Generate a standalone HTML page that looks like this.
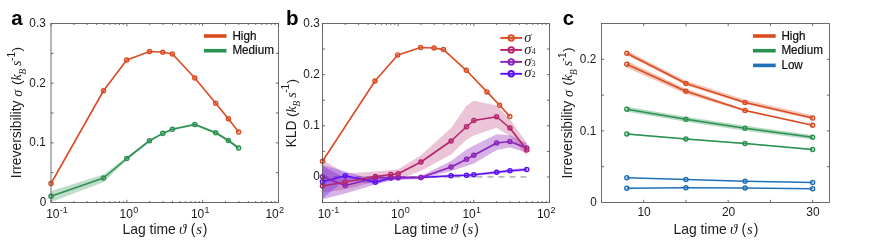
<!DOCTYPE html>
<html><head><meta charset="utf-8"><title>figure</title>
<style>
html,body{margin:0;padding:0;background:#fff;}
body{width:872px;height:242px;overflow:hidden;}
svg{display:block;will-change:transform;font-family:"Liberation Sans",sans-serif;fill:#1c1c1c;}
</style></head><body>
<svg width="872" height="242" viewBox="0 0 872 242">
<rect width="872" height="242" fill="#ffffff"/>
<clipPath id="ca"><rect x="51" y="23.5" width="227.5" height="179.0"/></clipPath>
<clipPath id="cb"><rect x="322.5" y="23.5" width="227" height="179.0"/></clipPath>
<clipPath id="cc"><rect x="601.5" y="23.5" width="228" height="179.0"/></clipPath>
<path d="M51.00 191.00 L103.50 174.50 L126.75 157.00 L149.50 139.80 L162.75 132.40 L172.40 128.30 L194.80 123.20 L215.70 131.30 L228.40 139.00 L238.60 146.80 L238.60 149.20 L228.40 142.00 L215.70 134.30 L194.80 125.80 L172.40 130.30 L162.75 134.40 L149.50 141.80 L126.75 160.30 L103.50 182.30 L51.00 202.00Z" fill="#2A9150" fill-opacity="0.3" stroke="none" clip-path="url(#ca)"/>
<path d="M51.00 196.20 L103.50 178.00 L126.75 158.50 L149.50 140.75 L162.75 133.40 L172.40 129.30 L194.80 124.50 L215.70 132.80 L228.40 140.50 L238.60 148.00" stroke="#2A9150" stroke-width="1.6" fill="none" stroke-linejoin="round"/>
<circle cx="51.00" cy="196.20" r="2.05" fill="none" stroke="#2A9150" stroke-width="1.45"/>
<circle cx="103.50" cy="178.00" r="2.05" fill="none" stroke="#2A9150" stroke-width="1.45"/>
<circle cx="126.75" cy="158.50" r="2.05" fill="none" stroke="#2A9150" stroke-width="1.45"/>
<circle cx="149.50" cy="140.75" r="2.05" fill="none" stroke="#2A9150" stroke-width="1.45"/>
<circle cx="162.75" cy="133.40" r="2.05" fill="none" stroke="#2A9150" stroke-width="1.45"/>
<circle cx="172.40" cy="129.30" r="2.05" fill="none" stroke="#2A9150" stroke-width="1.45"/>
<circle cx="194.80" cy="124.50" r="2.05" fill="none" stroke="#2A9150" stroke-width="1.45"/>
<circle cx="215.70" cy="132.80" r="2.05" fill="none" stroke="#2A9150" stroke-width="1.45"/>
<circle cx="228.40" cy="140.50" r="2.05" fill="none" stroke="#2A9150" stroke-width="1.45"/>
<circle cx="238.60" cy="148.00" r="2.05" fill="none" stroke="#2A9150" stroke-width="1.45"/>
<path d="M51.00 183.50 L103.50 90.75 L126.75 60.00 L149.50 51.50 L162.75 52.25 L172.40 54.00 L194.80 78.00 L215.70 103.25 L228.40 118.75 L238.60 132.00" stroke="#DB4B20" stroke-width="1.6" fill="none" stroke-linejoin="round"/>
<circle cx="51.00" cy="183.50" r="2.05" fill="none" stroke="#DB4B20" stroke-width="1.45"/>
<circle cx="103.50" cy="90.75" r="2.05" fill="none" stroke="#DB4B20" stroke-width="1.45"/>
<circle cx="126.75" cy="60.00" r="2.05" fill="none" stroke="#DB4B20" stroke-width="1.45"/>
<circle cx="149.50" cy="51.50" r="2.05" fill="none" stroke="#DB4B20" stroke-width="1.45"/>
<circle cx="162.75" cy="52.25" r="2.05" fill="none" stroke="#DB4B20" stroke-width="1.45"/>
<circle cx="172.40" cy="54.00" r="2.05" fill="none" stroke="#DB4B20" stroke-width="1.45"/>
<circle cx="194.80" cy="78.00" r="2.05" fill="none" stroke="#DB4B20" stroke-width="1.45"/>
<circle cx="215.70" cy="103.25" r="2.05" fill="none" stroke="#DB4B20" stroke-width="1.45"/>
<circle cx="228.40" cy="118.75" r="2.05" fill="none" stroke="#DB4B20" stroke-width="1.45"/>
<circle cx="238.60" cy="132.00" r="2.05" fill="none" stroke="#DB4B20" stroke-width="1.45"/>
<rect x="51" y="23.5" width="227.5" height="179.0" fill="none" stroke="#484848" stroke-width="0.8"/>
<path d="M51.00 202.5v-2.7M51.00 23.5v2.7M126.83 202.5v-2.7M126.83 23.5v2.7M202.67 202.5v-2.7M202.67 23.5v2.7M278.50 202.5v-2.7M278.50 23.5v2.7" stroke="#484848" stroke-width="0.8" fill="none"/>
<path d="M73.83 202.5v-1.5M73.83 23.5v1.5M87.18 202.5v-1.5M87.18 23.5v1.5M96.66 202.5v-1.5M96.66 23.5v1.5M104.01 202.5v-1.5M104.01 23.5v1.5M110.01 202.5v-1.5M110.01 23.5v1.5M115.09 202.5v-1.5M115.09 23.5v1.5M119.48 202.5v-1.5M119.48 23.5v1.5M123.36 202.5v-1.5M123.36 23.5v1.5M149.66 202.5v-1.5M149.66 23.5v1.5M163.02 202.5v-1.5M163.02 23.5v1.5M172.49 202.5v-1.5M172.49 23.5v1.5M179.84 202.5v-1.5M179.84 23.5v1.5M185.84 202.5v-1.5M185.84 23.5v1.5M190.92 202.5v-1.5M190.92 23.5v1.5M195.32 202.5v-1.5M195.32 23.5v1.5M199.20 202.5v-1.5M199.20 23.5v1.5M225.49 202.5v-1.5M225.49 23.5v1.5M238.85 202.5v-1.5M238.85 23.5v1.5M248.32 202.5v-1.5M248.32 23.5v1.5M255.67 202.5v-1.5M255.67 23.5v1.5M261.68 202.5v-1.5M261.68 23.5v1.5M266.75 202.5v-1.5M266.75 23.5v1.5M271.15 202.5v-1.5M271.15 23.5v1.5M275.03 202.5v-1.5M275.03 23.5v1.5" stroke="#484848" stroke-width="0.8" fill="none"/>
<path d="M51 172.67h2.6M278.5 172.67h-2.6M51 142.83h2.6M278.5 142.83h-2.6M51 113.00h2.6M278.5 113.00h-2.6M51 83.17h2.6M278.5 83.17h-2.6M51 53.33h2.6M278.5 53.33h-2.6" stroke="#484848" stroke-width="0.8" fill="none"/>
<text transform="translate(46.30 205.70) scale(0.98 1)" font-size="12" text-anchor="end" >0</text>
<text transform="translate(45.70 146.33) scale(0.98 1)" font-size="12" text-anchor="end" >0.1</text>
<text transform="translate(45.70 86.67) scale(0.98 1)" font-size="12" text-anchor="end" >0.2</text>
<text transform="translate(45.70 26.50) scale(0.98 1)" font-size="12" text-anchor="end" >0.3</text>
<text transform="translate(46.20 218.0) scale(0.91 1)" font-size="13.2">10<tspan dx="0.2" dy="-5.4" font-size="9.9">-1</tspan></text>
<text transform="translate(119.60 218.0) scale(0.91 1)" font-size="13.2">10<tspan dx="0.2" dy="-5.4" font-size="9.9">0</tspan></text>
<text transform="translate(190.90 218.0) scale(0.91 1)" font-size="13.2">10<tspan dx="0.2" dy="-5.4" font-size="9.9">1</tspan></text>
<text transform="translate(265.40 218.0) scale(0.91 1)" font-size="13.2">10<tspan dx="0.2" dy="-5.4" font-size="9.9">2</tspan></text>
<text transform="translate(11.30 25.20) scale(1 1)" font-size="20.5" text-anchor="start" font-weight="bold" fill="#000">a</text>
<g transform="translate(21.3 177.0) rotate(-90)"><text x="-1.2" y="0" font-size="13.85" transform="scale(1 1.07)">Irreversibility</text><text x="80.3" y="0.6" font-size="14.0" font-family="Liberation Serif" font-style="italic">σ</text><text x="92.00" y="0" font-size="13.7">(</text><text x="96.40" y="0" font-size="14.299999999999999" font-family="Liberation Serif" font-style="italic">k</text><text x="102.40" y="4.5" font-size="9.3" font-family="Liberation Serif" font-style="italic">B</text><text x="111.10" y="0" font-size="14.299999999999999" font-family="Liberation Serif" font-style="italic">s</text><text x="116.10" y="-6.6" font-size="10.1">-1</text><text x="125.50" y="0" font-size="13.7">)</text></g>
<text x="165.0" y="234" font-size="13.9" text-anchor="middle">Lag time<tspan font-family="Liberation Serif" font-style="italic" font-size="14.9" dx="3.2">ϑ</tspan><tspan dx="4.3">(</tspan><tspan font-family="Liberation Serif" font-style="italic" font-size="14.700000000000001" dx="0.9">s</tspan><tspan dx="0.9">)</tspan></text>
<path d="M204 36.0H226.5" stroke="#DB4B20" stroke-width="3.6"/>
<text transform="translate(232.40 39.70) scale(0.965 1)" font-size="12.1" text-anchor="start" fill="#0c0c0c" stroke="#0c0c0c" stroke-width="0.2">High</text>
<path d="M204 50.7H226.5" stroke="#2A9150" stroke-width="3.6"/>
<text transform="translate(232.40 54.40) scale(0.965 1)" font-size="12.1" text-anchor="start" fill="#0c0c0c" stroke="#0c0c0c" stroke-width="0.2">Medium</text>
<path d="M322.5 176.93H527" stroke="#7a7a7a" stroke-width="0.9" stroke-dasharray="6 5" fill="none"/>
<path d="M322.50 159.50 L345.28 173.50 L375.39 171.40 L390.83 170.00 L398.17 169.30 L420.94 155.30 L451.06 128.00 L466.50 105.80 L473.83 100.80 L496.61 105.50 L509.94 119.00 L526.72 143.00 L526.72 156.00 L509.94 136.00 L496.61 127.70 L473.83 135.50 L466.50 139.70 L451.06 154.50 L420.94 171.00 L398.17 179.50 L390.83 180.30 L375.39 181.50 L345.28 189.40 L322.50 192.50Z" fill="#B5256D" fill-opacity="0.27" stroke="none" clip-path="url(#cb)"/>
<path d="M322.50 166.00 L345.28 178.00 L375.39 175.50 L390.83 175.50 L398.17 176.00 L420.94 176.00 L451.06 161.00 L466.50 149.50 L473.83 145.50 L496.61 134.20 L509.94 135.30 L526.72 143.30 L526.72 152.50 L509.94 147.50 L496.61 150.00 L473.83 163.50 L466.50 166.00 L451.06 171.00 L420.94 179.00 L398.17 180.00 L390.83 180.80 L375.39 184.50 L345.28 193.50 L322.50 199.30Z" fill="#8A22B8" fill-opacity="0.35" stroke="none" clip-path="url(#cb)"/>
<path d="M322.50 165.00 L345.28 171.50 L375.39 180.50 L390.83 176.80 L398.17 176.60 L420.94 176.40 L451.06 174.60 L466.50 174.00 L473.83 173.50 L496.61 170.80 L509.94 169.20 L526.72 167.80 L526.72 171.20 L509.94 172.30 L496.61 173.70 L473.83 176.00 L466.50 176.50 L451.06 177.00 L420.94 178.60 L398.17 178.90 L390.83 179.20 L375.39 184.00 L345.28 180.00 L322.50 198.60Z" fill="#5A10F5" fill-opacity="0.3" stroke="none" clip-path="url(#cb)"/>
<path d="M322.50 181.75 L345.28 175.75 L375.39 182.25 L390.83 178.00 L398.17 177.75 L420.94 177.50 L451.06 175.75 L466.50 175.25 L473.83 174.75 L496.61 172.25 L509.94 170.75 L526.72 169.50" stroke="#5A10F5" stroke-width="1.6" fill="none" stroke-linejoin="round"/>
<circle cx="322.50" cy="181.75" r="2.05" fill="none" stroke="#5A10F5" stroke-width="1.45"/>
<circle cx="345.28" cy="175.75" r="2.05" fill="none" stroke="#5A10F5" stroke-width="1.45"/>
<circle cx="375.39" cy="182.25" r="2.05" fill="none" stroke="#5A10F5" stroke-width="1.45"/>
<circle cx="390.83" cy="178.00" r="2.05" fill="none" stroke="#5A10F5" stroke-width="1.45"/>
<circle cx="398.17" cy="177.75" r="2.05" fill="none" stroke="#5A10F5" stroke-width="1.45"/>
<circle cx="420.94" cy="177.50" r="2.05" fill="none" stroke="#5A10F5" stroke-width="1.45"/>
<circle cx="451.06" cy="175.75" r="2.05" fill="none" stroke="#5A10F5" stroke-width="1.45"/>
<circle cx="466.50" cy="175.25" r="2.05" fill="none" stroke="#5A10F5" stroke-width="1.45"/>
<circle cx="473.83" cy="174.75" r="2.05" fill="none" stroke="#5A10F5" stroke-width="1.45"/>
<circle cx="496.61" cy="172.25" r="2.05" fill="none" stroke="#5A10F5" stroke-width="1.45"/>
<circle cx="509.94" cy="170.75" r="2.05" fill="none" stroke="#5A10F5" stroke-width="1.45"/>
<circle cx="526.72" cy="169.50" r="2.05" fill="none" stroke="#5A10F5" stroke-width="1.45"/>
<path d="M322.50 176.75 L345.28 185.50 L375.39 178.00 L390.83 177.50 L398.17 177.50 L420.94 177.50 L451.06 167.00 L466.50 159.25 L473.83 155.25 L496.61 143.00 L509.94 141.50 L526.72 148.00" stroke="#8A22B8" stroke-width="1.6" fill="none" stroke-linejoin="round"/>
<circle cx="322.50" cy="176.75" r="2.05" fill="none" stroke="#8A22B8" stroke-width="1.45"/>
<circle cx="345.28" cy="185.50" r="2.05" fill="none" stroke="#8A22B8" stroke-width="1.45"/>
<circle cx="375.39" cy="178.00" r="2.05" fill="none" stroke="#8A22B8" stroke-width="1.45"/>
<circle cx="390.83" cy="177.50" r="2.05" fill="none" stroke="#8A22B8" stroke-width="1.45"/>
<circle cx="398.17" cy="177.50" r="2.05" fill="none" stroke="#8A22B8" stroke-width="1.45"/>
<circle cx="420.94" cy="177.50" r="2.05" fill="none" stroke="#8A22B8" stroke-width="1.45"/>
<circle cx="451.06" cy="167.00" r="2.05" fill="none" stroke="#8A22B8" stroke-width="1.45"/>
<circle cx="466.50" cy="159.25" r="2.05" fill="none" stroke="#8A22B8" stroke-width="1.45"/>
<circle cx="473.83" cy="155.25" r="2.05" fill="none" stroke="#8A22B8" stroke-width="1.45"/>
<circle cx="496.61" cy="143.00" r="2.05" fill="none" stroke="#8A22B8" stroke-width="1.45"/>
<circle cx="509.94" cy="141.50" r="2.05" fill="none" stroke="#8A22B8" stroke-width="1.45"/>
<circle cx="526.72" cy="148.00" r="2.05" fill="none" stroke="#8A22B8" stroke-width="1.45"/>
<path d="M322.50 186.00 L345.28 182.00 L375.39 176.50 L390.83 174.50 L398.17 173.75 L420.94 162.00 L451.06 141.00 L466.50 126.75 L473.83 120.50 L496.61 116.75 L509.94 128.00 L526.72 150.00" stroke="#B5256D" stroke-width="1.6" fill="none" stroke-linejoin="round"/>
<circle cx="322.50" cy="186.00" r="2.05" fill="none" stroke="#B5256D" stroke-width="1.45"/>
<circle cx="345.28" cy="182.00" r="2.05" fill="none" stroke="#B5256D" stroke-width="1.45"/>
<circle cx="375.39" cy="176.50" r="2.05" fill="none" stroke="#B5256D" stroke-width="1.45"/>
<circle cx="390.83" cy="174.50" r="2.05" fill="none" stroke="#B5256D" stroke-width="1.45"/>
<circle cx="398.17" cy="173.75" r="2.05" fill="none" stroke="#B5256D" stroke-width="1.45"/>
<circle cx="420.94" cy="162.00" r="2.05" fill="none" stroke="#B5256D" stroke-width="1.45"/>
<circle cx="451.06" cy="141.00" r="2.05" fill="none" stroke="#B5256D" stroke-width="1.45"/>
<circle cx="466.50" cy="126.75" r="2.05" fill="none" stroke="#B5256D" stroke-width="1.45"/>
<circle cx="473.83" cy="120.50" r="2.05" fill="none" stroke="#B5256D" stroke-width="1.45"/>
<circle cx="496.61" cy="116.75" r="2.05" fill="none" stroke="#B5256D" stroke-width="1.45"/>
<circle cx="509.94" cy="128.00" r="2.05" fill="none" stroke="#B5256D" stroke-width="1.45"/>
<circle cx="526.72" cy="150.00" r="2.05" fill="none" stroke="#B5256D" stroke-width="1.45"/>
<path d="M322.50 161.25 L375.00 81.00 L397.70 54.90 L420.60 47.50 L434.00 48.00 L443.50 49.60 L466.30 70.30 L487.00 91.90 L499.60 105.30 L509.80 116.40" stroke="#DB4B20" stroke-width="1.6" fill="none" stroke-linejoin="round"/>
<circle cx="322.50" cy="161.25" r="2.05" fill="none" stroke="#DB4B20" stroke-width="1.45"/>
<circle cx="375.00" cy="81.00" r="2.05" fill="none" stroke="#DB4B20" stroke-width="1.45"/>
<circle cx="397.70" cy="54.90" r="2.05" fill="none" stroke="#DB4B20" stroke-width="1.45"/>
<circle cx="420.60" cy="47.50" r="2.05" fill="none" stroke="#DB4B20" stroke-width="1.45"/>
<circle cx="434.00" cy="48.00" r="2.05" fill="none" stroke="#DB4B20" stroke-width="1.45"/>
<circle cx="443.50" cy="49.60" r="2.05" fill="none" stroke="#DB4B20" stroke-width="1.45"/>
<circle cx="466.30" cy="70.30" r="2.05" fill="none" stroke="#DB4B20" stroke-width="1.45"/>
<circle cx="487.00" cy="91.90" r="2.05" fill="none" stroke="#DB4B20" stroke-width="1.45"/>
<circle cx="499.60" cy="105.30" r="2.05" fill="none" stroke="#DB4B20" stroke-width="1.45"/>
<circle cx="509.80" cy="116.40" r="2.05" fill="none" stroke="#DB4B20" stroke-width="1.45"/>
<rect x="322.5" y="23.5" width="227.0" height="179.0" fill="none" stroke="#484848" stroke-width="0.8"/>
<path d="M322.50 202.5v-2.7M322.50 23.5v2.7M398.17 202.5v-2.7M398.17 23.5v2.7M473.83 202.5v-2.7M473.83 23.5v2.7M549.50 202.5v-2.7M549.50 23.5v2.7" stroke="#484848" stroke-width="0.8" fill="none"/>
<path d="M345.28 202.5v-1.5M345.28 23.5v1.5M358.60 202.5v-1.5M358.60 23.5v1.5M368.06 202.5v-1.5M368.06 23.5v1.5M375.39 202.5v-1.5M375.39 23.5v1.5M381.38 202.5v-1.5M381.38 23.5v1.5M386.45 202.5v-1.5M386.45 23.5v1.5M390.83 202.5v-1.5M390.83 23.5v1.5M394.70 202.5v-1.5M394.70 23.5v1.5M420.94 202.5v-1.5M420.94 23.5v1.5M434.27 202.5v-1.5M434.27 23.5v1.5M443.72 202.5v-1.5M443.72 23.5v1.5M451.06 202.5v-1.5M451.06 23.5v1.5M457.05 202.5v-1.5M457.05 23.5v1.5M462.11 202.5v-1.5M462.11 23.5v1.5M466.50 202.5v-1.5M466.50 23.5v1.5M470.37 202.5v-1.5M470.37 23.5v1.5M496.61 202.5v-1.5M496.61 23.5v1.5M509.94 202.5v-1.5M509.94 23.5v1.5M519.39 202.5v-1.5M519.39 23.5v1.5M526.72 202.5v-1.5M526.72 23.5v1.5M532.71 202.5v-1.5M532.71 23.5v1.5M537.78 202.5v-1.5M537.78 23.5v1.5M542.17 202.5v-1.5M542.17 23.5v1.5M546.04 202.5v-1.5M546.04 23.5v1.5" stroke="#484848" stroke-width="0.8" fill="none"/>
<path d="M322.5 176.93h2.6M549.5 176.93h-2.6M322.5 151.36h2.6M549.5 151.36h-2.6M322.5 125.79h2.6M549.5 125.79h-2.6M322.5 100.21h2.6M549.5 100.21h-2.6M322.5 74.64h2.6M549.5 74.64h-2.6M322.5 49.07h2.6M549.5 49.07h-2.6" stroke="#484848" stroke-width="0.8" fill="none"/>
<text transform="translate(319.70 180.43) scale(0.98 1)" font-size="12" text-anchor="end" >0</text>
<text transform="translate(319.70 129.29) scale(0.98 1)" font-size="12" text-anchor="end" >0.1</text>
<text transform="translate(319.70 78.14) scale(0.98 1)" font-size="12" text-anchor="end" >0.2</text>
<text transform="translate(319.70 26.50) scale(0.98 1)" font-size="12" text-anchor="end" >0.3</text>
<text transform="translate(317.70 218.0) scale(0.91 1)" font-size="13.2">10<tspan dx="0.2" dy="-5.4" font-size="9.9">-1</tspan></text>
<text transform="translate(391.10 218.0) scale(0.91 1)" font-size="13.2">10<tspan dx="0.2" dy="-5.4" font-size="9.9">0</tspan></text>
<text transform="translate(462.40 218.0) scale(0.91 1)" font-size="13.2">10<tspan dx="0.2" dy="-5.4" font-size="9.9">1</tspan></text>
<text transform="translate(536.90 218.0) scale(0.91 1)" font-size="13.2">10<tspan dx="0.2" dy="-5.4" font-size="9.9">2</tspan></text>
<text transform="translate(286.10 25.10) scale(1 1)" font-size="20.5" text-anchor="start" font-weight="bold" fill="#000">b</text>
<g transform="translate(295.9 146.4) rotate(-90)"><text x="-1.1" y="0" font-size="13.85" transform="scale(1 1.07)">KLD</text><text x="29.50" y="0" font-size="13.7">(</text><text x="33.90" y="0" font-size="14.299999999999999" font-family="Liberation Serif" font-style="italic">k</text><text x="39.90" y="4.5" font-size="9.3" font-family="Liberation Serif" font-style="italic">B</text><text x="48.60" y="0" font-size="14.299999999999999" font-family="Liberation Serif" font-style="italic">s</text><text x="53.60" y="-6.6" font-size="10.1">-1</text><text x="63.00" y="0" font-size="13.7">)</text></g>
<text x="436.4" y="234" font-size="13.9" text-anchor="middle">Lag time<tspan font-family="Liberation Serif" font-style="italic" font-size="14.9" dx="3.2">ϑ</tspan><tspan dx="4.3">(</tspan><tspan font-family="Liberation Serif" font-style="italic" font-size="14.700000000000001" dx="0.9">s</tspan><tspan dx="0.9">)</tspan></text>
<path d="M500.3 37.9H522" stroke="#DB4B20" stroke-width="1.9"/>
<circle cx="511.2" cy="37.9" r="2.75" fill="none" stroke="#DB4B20" stroke-width="1.9"/>
<text x="524.2" y="41.5" font-size="14.5" font-family="Liberation Serif" font-style="italic">σ<tspan font-style="normal" font-size="7.6" dx="0.3" dy="0"></tspan></text>
<path d="M500.3 49.9H522" stroke="#B5256D" stroke-width="1.9"/>
<circle cx="511.2" cy="49.9" r="2.75" fill="none" stroke="#B5256D" stroke-width="1.9"/>
<text x="524.2" y="53.5" font-size="14.5" font-family="Liberation Serif" font-style="italic">σ<tspan font-style="normal" font-size="7.6" dx="0.3" dy="0">4</tspan></text>
<path d="M500.3 61.9H522" stroke="#8A22B8" stroke-width="1.9"/>
<circle cx="511.2" cy="61.9" r="2.75" fill="none" stroke="#8A22B8" stroke-width="1.9"/>
<text x="524.2" y="65.5" font-size="14.5" font-family="Liberation Serif" font-style="italic">σ<tspan font-style="normal" font-size="7.6" dx="0.3" dy="0">3</tspan></text>
<path d="M500.3 73.8H522" stroke="#5A10F5" stroke-width="1.9"/>
<circle cx="511.2" cy="73.8" r="2.75" fill="none" stroke="#5A10F5" stroke-width="1.9"/>
<text x="524.2" y="77.39999999999999" font-size="14.5" font-family="Liberation Serif" font-style="italic">σ<tspan font-style="normal" font-size="7.6" dx="0.3" dy="0">2</tspan></text>
<path d="M626.83 50.65 L685.94 80.70 L745.06 99.70 L812.61 115.20 L812.61 119.60 L745.06 104.10 L685.94 85.30 L626.83 55.25Z" fill="#DB4B20" fill-opacity="0.33" stroke="none" clip-path="url(#cc)"/>
<path d="M626.83 61.05 L685.94 88.65 L745.06 109.60 L812.61 124.65 L812.61 125.85 L745.06 111.40 L685.94 94.05 L626.83 67.65Z" fill="#DB4B20" fill-opacity="0.33" stroke="none" clip-path="url(#cc)"/>
<path d="M626.83 106.65 L685.94 116.65 L745.06 125.85 L812.61 135.05 L812.61 139.45 L745.06 130.65 L685.94 121.85 L626.83 111.85Z" fill="#2A9150" fill-opacity="0.34" stroke="none" clip-path="url(#cc)"/>
<path d="M626.83 133.20 L685.94 138.20 L745.06 142.70 L812.61 148.70 L812.61 150.30 L745.06 144.30 L685.94 139.80 L626.83 134.80Z" fill="#2A9150" fill-opacity="0.3" stroke="none" clip-path="url(#cc)"/>
<path d="M626.83 53.25 L685.94 83.50 L745.06 102.50 L812.61 118.00" stroke="#DB4B20" stroke-width="1.6" fill="none" stroke-linejoin="round"/>
<circle cx="626.83" cy="53.25" r="2.05" fill="none" stroke="#DB4B20" stroke-width="1.45"/>
<circle cx="685.94" cy="83.50" r="2.05" fill="none" stroke="#DB4B20" stroke-width="1.45"/>
<circle cx="745.06" cy="102.50" r="2.05" fill="none" stroke="#DB4B20" stroke-width="1.45"/>
<circle cx="812.61" cy="118.00" r="2.05" fill="none" stroke="#DB4B20" stroke-width="1.45"/>
<path d="M626.83 64.25 L685.94 91.25 L745.06 110.50 L812.61 125.25" stroke="#DB4B20" stroke-width="1.6" fill="none" stroke-linejoin="round"/>
<circle cx="626.83" cy="64.25" r="2.05" fill="none" stroke="#DB4B20" stroke-width="1.45"/>
<circle cx="685.94" cy="91.25" r="2.05" fill="none" stroke="#DB4B20" stroke-width="1.45"/>
<circle cx="745.06" cy="110.50" r="2.05" fill="none" stroke="#DB4B20" stroke-width="1.45"/>
<circle cx="812.61" cy="125.25" r="2.05" fill="none" stroke="#DB4B20" stroke-width="1.45"/>
<path d="M626.83 109.25 L685.94 119.25 L745.06 128.25 L812.61 137.25" stroke="#2A9150" stroke-width="1.6" fill="none" stroke-linejoin="round"/>
<circle cx="626.83" cy="109.25" r="2.05" fill="none" stroke="#2A9150" stroke-width="1.45"/>
<circle cx="685.94" cy="119.25" r="2.05" fill="none" stroke="#2A9150" stroke-width="1.45"/>
<circle cx="745.06" cy="128.25" r="2.05" fill="none" stroke="#2A9150" stroke-width="1.45"/>
<circle cx="812.61" cy="137.25" r="2.05" fill="none" stroke="#2A9150" stroke-width="1.45"/>
<path d="M626.83 134.00 L685.94 139.00 L745.06 143.50 L812.61 149.50" stroke="#2A9150" stroke-width="1.6" fill="none" stroke-linejoin="round"/>
<circle cx="626.83" cy="134.00" r="2.05" fill="none" stroke="#2A9150" stroke-width="1.45"/>
<circle cx="685.94" cy="139.00" r="2.05" fill="none" stroke="#2A9150" stroke-width="1.45"/>
<circle cx="745.06" cy="143.50" r="2.05" fill="none" stroke="#2A9150" stroke-width="1.45"/>
<circle cx="812.61" cy="149.50" r="2.05" fill="none" stroke="#2A9150" stroke-width="1.45"/>
<path d="M626.83 177.75 L685.94 179.50 L745.06 181.25 L812.61 182.50" stroke="#2070B8" stroke-width="1.6" fill="none" stroke-linejoin="round"/>
<circle cx="626.83" cy="177.75" r="2.05" fill="none" stroke="#2070B8" stroke-width="1.45"/>
<circle cx="685.94" cy="179.50" r="2.05" fill="none" stroke="#2070B8" stroke-width="1.45"/>
<circle cx="745.06" cy="181.25" r="2.05" fill="none" stroke="#2070B8" stroke-width="1.45"/>
<circle cx="812.61" cy="182.50" r="2.05" fill="none" stroke="#2070B8" stroke-width="1.45"/>
<path d="M626.83 188.25 L685.94 187.75 L745.06 188.00 L812.61 188.75" stroke="#2070B8" stroke-width="1.6" fill="none" stroke-linejoin="round"/>
<circle cx="626.83" cy="188.25" r="2.05" fill="none" stroke="#2070B8" stroke-width="1.45"/>
<circle cx="685.94" cy="187.75" r="2.05" fill="none" stroke="#2070B8" stroke-width="1.45"/>
<circle cx="745.06" cy="188.00" r="2.05" fill="none" stroke="#2070B8" stroke-width="1.45"/>
<circle cx="812.61" cy="188.75" r="2.05" fill="none" stroke="#2070B8" stroke-width="1.45"/>
<rect x="601.5" y="23.5" width="228.0" height="179.0" fill="none" stroke="#484848" stroke-width="0.8"/>
<path d="M643.72 202.5v-2.7M643.72 23.5v2.7M685.94 202.5v-2.7M685.94 23.5v2.7M728.17 202.5v-2.7M728.17 23.5v2.7M770.39 202.5v-2.7M770.39 23.5v2.7M812.61 202.5v-2.7M812.61 23.5v2.7" stroke="#484848" stroke-width="0.8" fill="none"/>
<path d="M601.5 166.70h2.6M829.5 166.70h-2.6M601.5 130.90h2.6M829.5 130.90h-2.6M601.5 95.10h2.6M829.5 95.10h-2.6M601.5 59.30h2.6M829.5 59.30h-2.6" stroke="#484848" stroke-width="0.8" fill="none"/>
<text transform="translate(596.80 205.80) scale(0.98 1)" font-size="12" text-anchor="end" >0</text>
<text transform="translate(596.20 134.50) scale(0.98 1)" font-size="12" text-anchor="end" >0.1</text>
<text transform="translate(596.20 62.90) scale(0.98 1)" font-size="12" text-anchor="end" >0.2</text>
<text transform="translate(644.12 216.30) scale(0.91 1)" font-size="13.2" text-anchor="middle" >10</text>
<text transform="translate(728.57 216.30) scale(0.91 1)" font-size="13.2" text-anchor="middle" >20</text>
<text transform="translate(813.01 216.30) scale(0.91 1)" font-size="13.2" text-anchor="middle" >30</text>
<text transform="translate(562.80 25.10) scale(1 1)" font-size="20.5" text-anchor="start" font-weight="bold" fill="#000">c</text>
<g transform="translate(572.4 177.4) rotate(-90)"><text x="-1.2" y="0" font-size="13.85" transform="scale(1 1.07)">Irreversibility</text><text x="80.3" y="0.6" font-size="14.0" font-family="Liberation Serif" font-style="italic">σ</text><text x="92.00" y="0" font-size="13.7">(</text><text x="96.40" y="0" font-size="14.299999999999999" font-family="Liberation Serif" font-style="italic">k</text><text x="102.40" y="4.5" font-size="9.3" font-family="Liberation Serif" font-style="italic">B</text><text x="111.10" y="0" font-size="14.299999999999999" font-family="Liberation Serif" font-style="italic">s</text><text x="116.10" y="-6.6" font-size="10.1">-1</text><text x="125.50" y="0" font-size="13.7">)</text></g>
<text x="715.9" y="234" font-size="13.9" text-anchor="middle">Lag time<tspan font-family="Liberation Serif" font-style="italic" font-size="14.9" dx="3.2">ϑ</tspan><tspan dx="4.3">(</tspan><tspan font-family="Liberation Serif" font-style="italic" font-size="14.700000000000001" dx="0.9">s</tspan><tspan dx="0.9">)</tspan></text>
<path d="M753 36.0H775.7" stroke="#DB4B20" stroke-width="3.6"/>
<text transform="translate(781.40 39.70) scale(0.965 1)" font-size="12.1" text-anchor="start" fill="#0c0c0c" stroke="#0c0c0c" stroke-width="0.2">High</text>
<path d="M753 50.7H775.7" stroke="#2A9150" stroke-width="3.6"/>
<text transform="translate(781.40 54.40) scale(0.965 1)" font-size="12.1" text-anchor="start" fill="#0c0c0c" stroke="#0c0c0c" stroke-width="0.2">Medium</text>
<path d="M753 65.4H775.7" stroke="#2070B8" stroke-width="3.6"/>
<text transform="translate(781.40 69.10) scale(0.965 1)" font-size="12.1" text-anchor="start" fill="#0c0c0c" stroke="#0c0c0c" stroke-width="0.2">Low</text>
</svg>
</body></html>
